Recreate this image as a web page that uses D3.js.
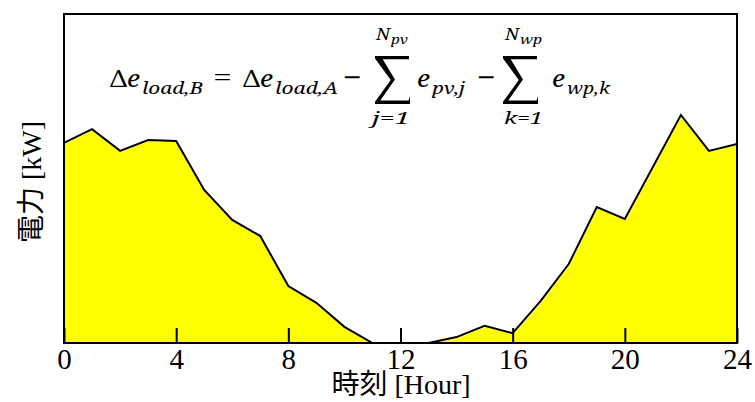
<!DOCTYPE html>
<html>
<head>
<meta charset="utf-8">
<script src="https://cdn.jsdelivr.net/npm/d3@7"></script>
<style>
  html, body { margin: 0; padding: 0; background: #fff; }
  svg { display: block; }
</style>
</head>
<body>
<div id="chart"></div>
<script>
// hourly net load (share of the plot height, %)
const hours = d3.range(0, 25);
const netLoad = [60.8, 65.0, 58.4, 61.7, 61.4, 46.5, 37.4, 32.5, 17.3, 12.2, 4.9, 0, 0, 0,
  1.8, 5.2, 3.0, 12.8, 24.0, 41.3, 37.7, 53.5, 69.3, 58.4, 60.5];
const xTicks = [0, 4, 8, 12, 16, 20, 24];
const xLabel = ['時刻', ' [Hour]'];
const yLabel = ['電力', ' [kW]'];

const width = 755, height = 402;
const margin = {top: 14, right: 18, bottom: 59, left: 64};
const serif = 'Liberation Serif';
const cjk = 'Noto Sans CJK JP';
const mathFont = 'Noto Serif';

const svg = d3.select('#chart').append('svg')
  .attr('width', width)
  .attr('height', height);

const x = d3.scaleLinear().domain([0, 24]).range([margin.left, width - margin.right]);
const y = d3.scaleLinear().domain([0, 100]).range([height - margin.bottom, margin.top]);

const data = hours.map((h, i) => ({h, v: netLoad[i]}));

// yellow area, offset a touch like the original
svg.append('path')
  .datum(data)
  .attr('transform', 'translate(1,1)')
  .attr('fill', '#ffff00')
  .attr('d', d3.area().x(d => x(d.h)).y0(y(0)).y1(d => y(d.v)));

svg.append('path')
  .datum(data)
  .attr('fill', 'none')
  .attr('stroke', '#000')
  .attr('stroke-width', 2)
  .attr('d', d3.line().x(d => x(d.h)).y(d => y(d.v)));

// frame
svg.append('rect')
  .attr('x', x(0)).attr('y', y(100))
  .attr('width', x(24) - x(0)).attr('height', y(0) - y(100))
  .attr('fill', 'none')
  .attr('stroke', '#000')
  .attr('stroke-width', 2);

// x axis, ticks pointing inward
const xAxis = svg.append('g')
  .attr('transform', `translate(0,${y(0)})`)
  .attr('font-family', serif)
  .attr('font-size', 29)
  .call(d3.axisBottom(x).tickValues(xTicks).tickSizeInner(-15).tickSizeOuter(0).tickPadding(5));
xAxis.select('.domain').remove();
xAxis.selectAll('.tick line').attr('stroke-width', 2);
xAxis.selectAll('.tick text')
  .style('font-family', serif)
  .style('font-size', '29px')
  .attr('fill', '#000');

// axis titles
const xt = svg.append('text')
  .attr('x', 401).attr('y', 394)
  .attr('text-anchor', 'middle')
  .style('font-size', '28px');
xt.append('tspan').style('font-family', cjk).text(xLabel[0]);
xt.append('tspan').style('font-family', serif).text(xLabel[1]);

const yt = svg.append('text')
  .attr('transform', 'translate(41,182) rotate(-90)')
  .attr('text-anchor', 'middle')
  .style('font-size', '28px');
yt.append('tspan').style('font-family', cjk).text(yLabel[0]);
yt.append('tspan').style('font-family', serif).text(yLabel[1]);

// formula
const eq = svg.append('g').attr('class', 'formula');

function piece(txt, px, py, size, w, italic) {
  const t = eq.append('text')
    .attr('x', px).attr('y', py)
    .style('font-family', mathFont)
    .style('font-size', size + 'px')
    .style('font-style', italic ? 'italic' : 'normal')
    .text(txt);
  if (w) t.attr('textLength', w).attr('lengthAdjust', 'spacingAndGlyphs');
  return t;
}

// big summation sign drawn as an outline in a unit box
const sigmaShape = [[0, 0], [0.97, 0], [0.97, 0.07], [0.22, 0.07], [0.57, 0.49], [0.15, 0.925],
  [0.96, 0.925], [1, 0.84], [1, 1], [0, 1], [0, 0.955], [0.45, 0.5], [0, 0.05]];
function sigma(x0, y0, x1, y1) {
  const sx = d3.scaleLinear().range([x0, x1]);
  const sy = d3.scaleLinear().range([y0, y1]);
  eq.append('path')
    .attr('fill', '#000')
    .attr('d', d3.line().x(p => sx(p[0])).y(p => sy(p[1]))(sigmaShape) + 'Z');
}

const base = 87, sub = 94;
piece('\u0394', 110, base, 24, 17, false);
piece('e', 127, base, 24, 13, true);
piece('load,B', 142, sub, 17, 61, true);
piece('=', 213, base - 1, 24, 19, false);
piece('\u0394', 243, base, 24, 17, false);
piece('e', 260, base, 24, 13, true);
piece('load,A', 275, sub, 17, 63, true);
piece('\u2212', 343, base - 1, 24, 19, false);
sigma(375, 56, 410, 104);
piece('N', 376, 40, 17, 14, true);
piece('pv', 391, 44, 12, 17, true);
piece('j=1', 372, 124, 17, 38, true);
piece('e', 417, base, 24, 13, true);
piece('pv,j', 432, sub, 17, 33, true);
piece('\u2212', 477, base - 1, 24, 19, false);
sigma(503, 56, 538, 104);
piece('N', 505, 40, 17, 14, true);
piece('wp', 520, 44, 12, 22, true);
piece('k=1', 504, 124, 17, 39, true);
piece('e', 552, base, 24, 13, true);
piece('wp,k', 567, sub, 17, 43, true);
</script>
</body>
</html>
